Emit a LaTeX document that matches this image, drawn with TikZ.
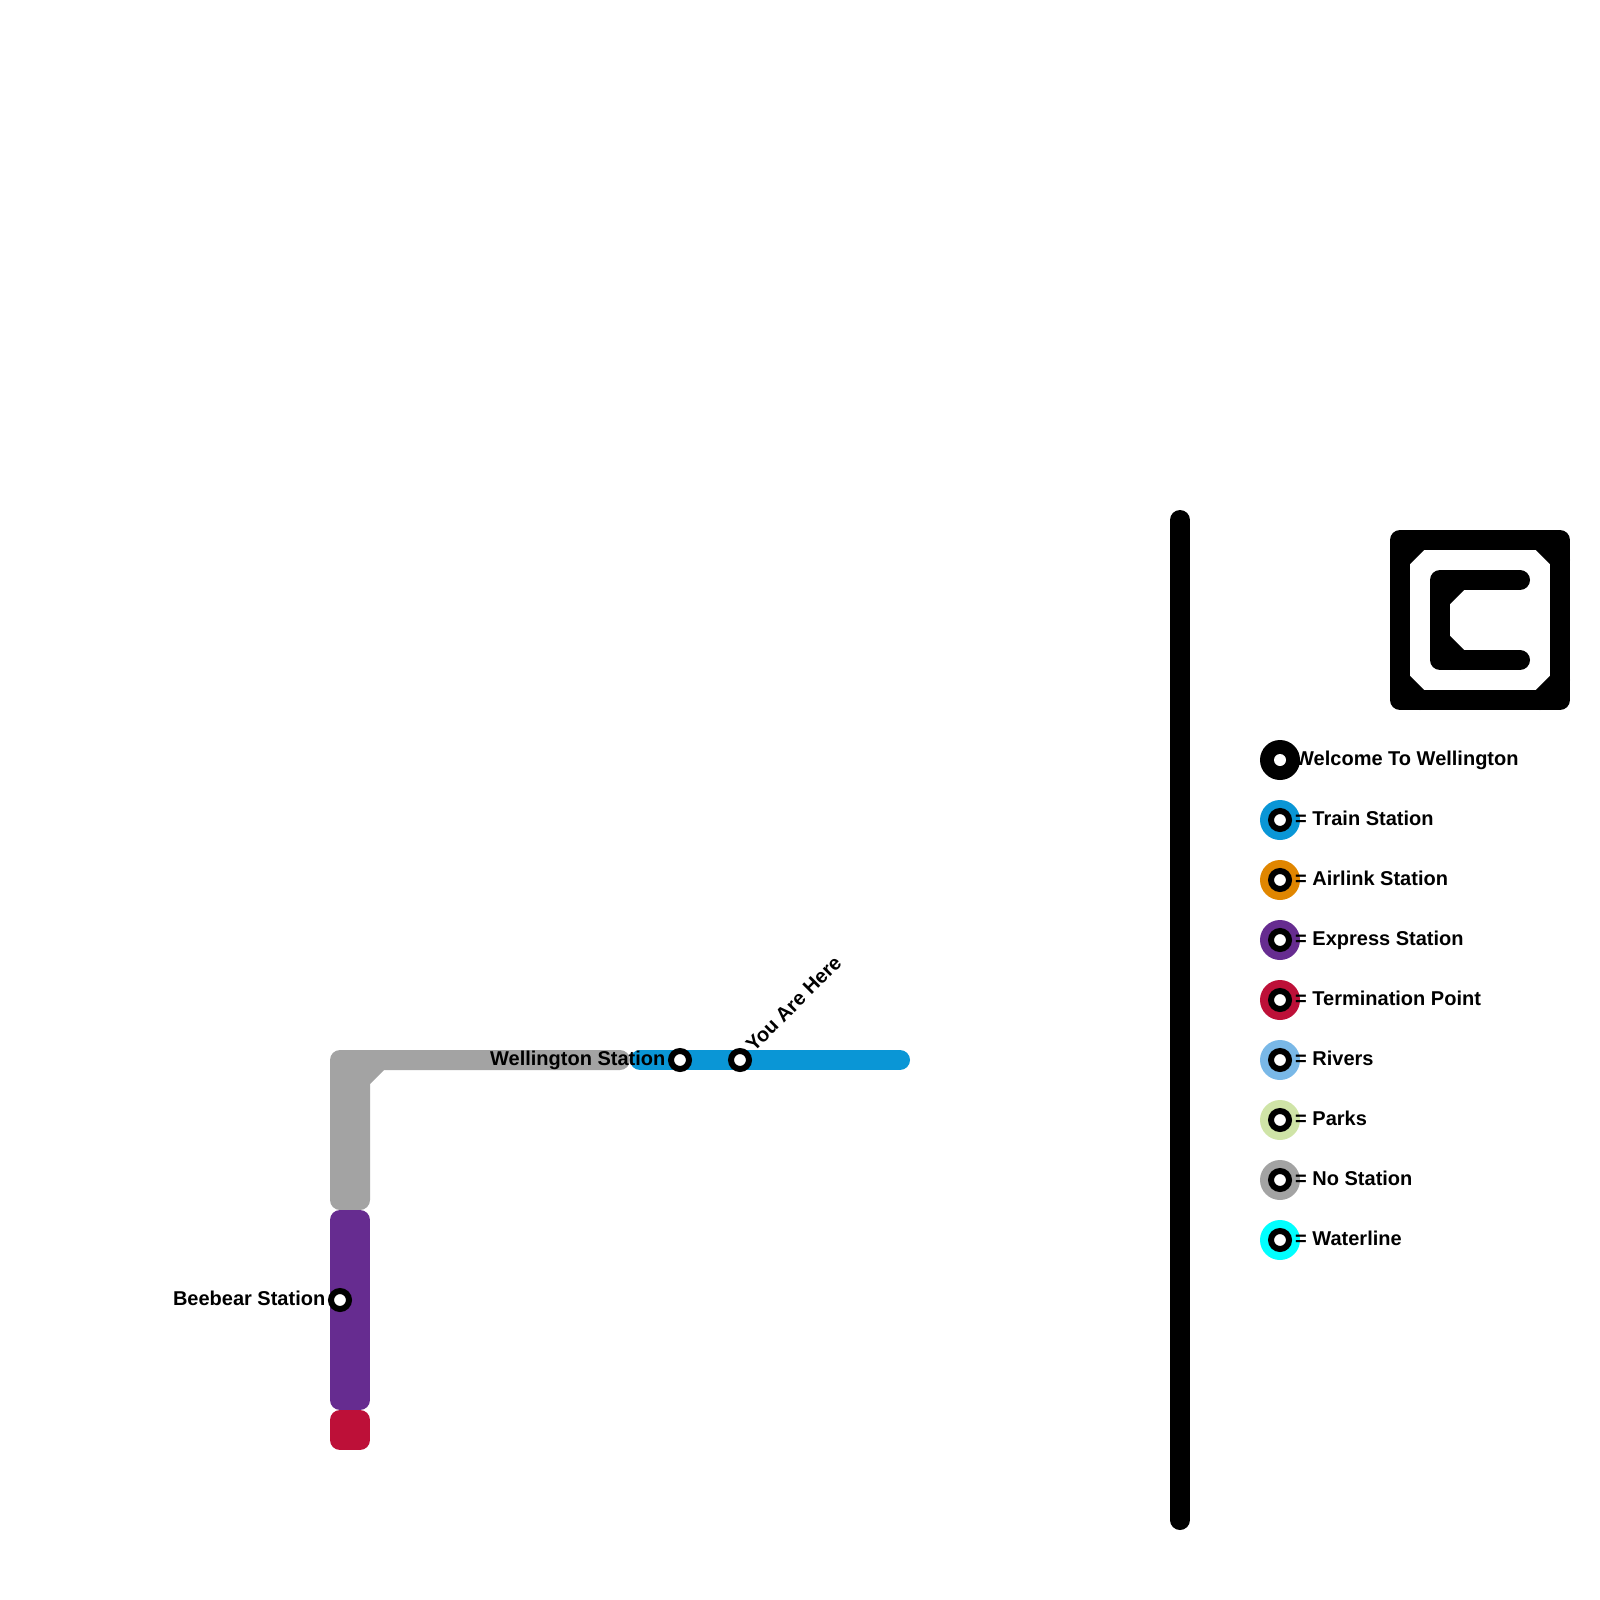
\documentclass[tikz,border=0pt]{standalone}
\usepackage{fontspec}
\setmainfont{Liberation Sans}
\definecolor{trainblue}{HTML}{0A96D6}
\definecolor{airorange}{HTML}{E08600}
\definecolor{expresspurple}{HTML}{662C90}
\definecolor{termred}{HTML}{BD1038}
\definecolor{riverblue}{HTML}{79B8E7}
\definecolor{parkgreen}{HTML}{CFE4A7}
\definecolor{nogrey}{HTML}{A3A3A3}
\definecolor{watercyan}{HTML}{00FFFF}
\tikzset{
  track/.style={line width=20pt, line cap=round, line join=round},
  stop/.style={circle, draw=black, fill=white, line width=6pt, minimum size=18pt, inner sep=0pt},
  disc/.style={circle, minimum size=40pt, inner sep=0pt},
  stoplabel/.style={font=\fontsize{20}{24}\selectfont\bfseries, inner sep=0pt, text=black},
}
\begin{document}
\begin{tikzpicture}[x=1pt, y=-1pt]
  \useasboundingbox (0,0) rectangle (1600,1600);
  % lines
  \draw[track, nogrey] (620,1060) -- (340,1060) -- (340,1200) -- (360,1200) -- (360,1080) -- (380,1060) (340,1080) -- (360,1080);
  \draw[track, expresspurple] (340,1220) -- (340,1400) -- (360,1400) -- (360,1220) -- cycle;
  \draw[track, termred] (340,1420) rectangle (360,1440);
  \draw[track, trainblue] (640,1060) -- (900,1060);
  \draw[track, black] (1180,520) -- (1180,1520);
  % logo
  \draw[track, black] (1400,540) rectangle (1560,700);
  \draw[track, black] (1520,580) -- (1440,580) -- (1440,660) -- (1520,660);
  \foreach \a/\b/\c/\d in {1400/560/1420/540, 1540/540/1560/560, 1400/680/1420/700, 1540/700/1560/680, 1440/600/1460/580, 1440/640/1460/660} {
    \draw[track, black] (\a,\b) -- (\c,\d);
  }
  % stations
  \foreach \name/\x/\y in {beebear/340/1300, wellington/680/1060, here/740/1060} {
    \node[stop] (\name) at (\x,\y) {};
  }
  \node[stoplabel, anchor=base east] (beebearlabel) at (325.5,1305) {Beebear Station};
  \node[stoplabel, anchor=base east] (wellingtonlabel) at (665.5,1065) {Wellington Station};
  \node[stoplabel, anchor=base west, rotate=45] (herelabel) at (754,1053) {You Are Here};
  % legend
  \node[disc, fill=black] (keywelcome) at (1280,760) {};
  \node[circle, fill=white, minimum size=12pt, inner sep=0pt] (keywelcomedot) at (1280,760) {};
  \node[stoplabel, anchor=base west] (keywelcomelabel) at (1295,765) {Welcome To Wellington};
  \foreach \name/\col/\txt/\y in {train/trainblue/Train Station/820, air/airorange/Airlink Station/880,
      express/expresspurple/Express Station/940, term/termred/Termination Point/1000,
      river/riverblue/Rivers/1060, park/parkgreen/Parks/1120, none/nogrey/No Station/1180, water/watercyan/Waterline/1240} {
    \node[disc, fill=\col] (key\name) at (1280,\y) {};
    \node[stop] (keystop\name) at (1280,\y) {};
    \node[stoplabel, anchor=base west] (key\name label) at (1295,\y+5) {= \txt};
  }
\end{tikzpicture}
\end{document}
